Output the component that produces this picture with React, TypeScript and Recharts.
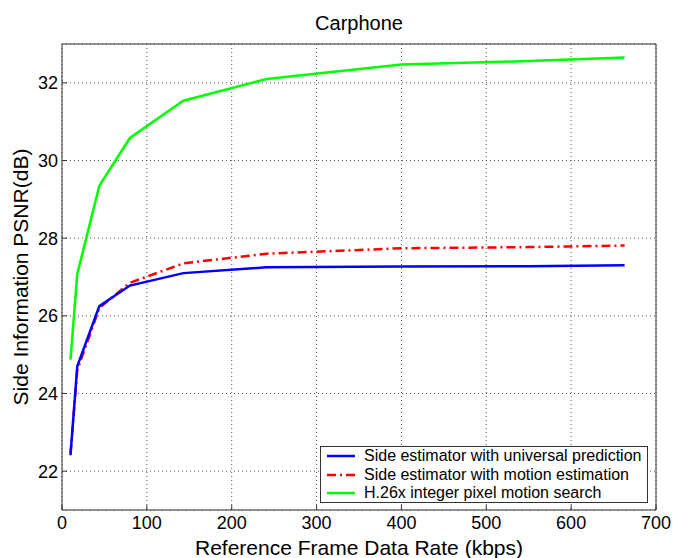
import React from 'react';
import { LineChart, Line, XAxis, YAxis, CartesianGrid, Label } from 'recharts';

const rates = [10, 18, 44, 80, 143, 241, 400, 550, 663];
const universal = [22.41, 24.7, 26.25, 26.78, 27.1, 27.25, 27.27, 27.28, 27.3];
const motionEst = [22.45, 24.6, 26.2, 26.85, 27.35, 27.6, 27.74, 27.77, 27.81];
const h26x = [24.87, 27.08, 29.35, 30.58, 31.54, 32.1, 32.47, 32.56, 32.65];

const xTicks = [0, 100, 200, 300, 400, 500, 600, 700];
const yTicks = [22, 24, 26, 28, 30, 32];

const seriesNames = [
  'Side estimator with universal prediction',
  'Side estimator with motion estimation',
  'H.26x integer pixel motion search',
];
const seriesColors = ['#0000ff', '#ff0000', '#00ff00'];
const seriesDash = [undefined, '9 4 2 4', undefined];

const data = rates.map((r, i) => ({
  rate: r,
  universal: universal[i],
  motion: motionEst[i],
  h26x: h26x[i],
}));

const FONT = '"Liberation Sans", Arial, sans-serif';

const LegendBox = () => (
  <div
    style={{
      position: 'absolute',
      left: 320,
      top: 446,
      border: '1px solid #333',
      background: '#fff',
      width: 328,
      height: 57,
      boxSizing: 'border-box',
      paddingTop: 0,
      fontFamily: FONT,
      fontSize: 16,
      color: '#000',
    }}
  >
    {seriesNames.map((name, i) => (
      <div key={name} style={{ display: 'flex', alignItems: 'center', height: 18.5, lineHeight: '18px' }}>
        <svg width={38} height={10} style={{ flex: 'none' }}>
          <line
            x1={6}
            x2={34}
            y1={5}
            y2={5}
            stroke={seriesColors[i]}
            strokeWidth={2.5}
            strokeDasharray={seriesDash[i]}
          />
        </svg>
        <span style={{ marginLeft: 5, whiteSpace: 'nowrap' }}>{name}</span>
      </div>
    ))}
  </div>
);

export default function App() {
  return (
    <div style={{ position: 'absolute', left: 0, top: 0, width: 673, height: 558, background: '#fff' }}>
      <LineChart width={673} height={558} data={data} margin={{ top: 0, right: 0, bottom: 0, left: 0 }}>
        <CartesianGrid xAxisId="b" yAxisId="l" stroke="#555" strokeDasharray="1 3" />
        <XAxis
          xAxisId="b"
          dataKey="rate"
          type="number"
          domain={[0, 700]}
          ticks={xTicks}
          interval={0}
          height={48}
          stroke="#333"
          tickSize={-5}
          tickMargin={11}
          tick={{ fill: '#000', fontSize: 18, fontFamily: FONT }}
        >
          <Label
            value="Reference Frame Data Rate (kbps)"
            position="insideBottom"
            offset={3}
            style={{ fontSize: 21, fontFamily: FONT, fill: '#000' }}
          />
        </XAxis>
        <XAxis
          xAxisId="t"
          orientation="top"
          dataKey="rate"
          type="number"
          domain={[0, 700]}
          ticks={xTicks}
          interval={0}
          height={44}
          stroke="#333"
          tickSize={-5}
          tick={false}
        >
          <Label
            content={(props: any) => {
              const vb = props.viewBox || {};
              const cx = (vb.x || 0) + (vb.width || 0) / 2;
              return (
                <text x={cx} y={30} textAnchor="middle" style={{ fontSize: 20, fontFamily: FONT, fill: '#000' }}>
                  Carphone
                </text>
              );
            }}
          />
        </XAxis>
        <YAxis
          yAxisId="l"
          type="number"
          domain={[21, 33]}
          ticks={yTicks}
          interval={0}
          width={62}
          stroke="#333"
          tickSize={-5}
          tickMargin={9}
          tick={{ fill: '#000', fontSize: 18, fontFamily: FONT }}
        >
          <Label
            content={(props: any) => {
              const vb = props.viewBox || {};
              const cx = (vb.x || 0) + 28;
              const cy = (vb.y || 0) + (vb.height || 0) / 2;
              return (
                <text
                  x={cx}
                  y={cy}
                  transform={`rotate(-90, ${cx}, ${cy})`}
                  textAnchor="middle"
                  style={{ fontSize: 21, fontFamily: FONT, fill: '#000' }}
                >
                  Side Information PSNR(dB)
                </text>
              );
            }}
          />
        </YAxis>
        <YAxis
          yAxisId="r"
          orientation="right"
          type="number"
          domain={[21, 33]}
          ticks={yTicks}
          interval={0}
          width={17}
          stroke="#333"
          tickSize={-5}
          tick={false}
        />
        <Line
          xAxisId="b"
          yAxisId="l"
          dataKey="motion"
          stroke={seriesColors[1]}
          strokeWidth={2.5}
          strokeDasharray={seriesDash[1]}
          dot={false}
          isAnimationActive={false}
        />
        <Line
          xAxisId="b"
          yAxisId="l"
          dataKey="universal"
          stroke={seriesColors[0]}
          strokeWidth={2.5}
          dot={false}
          isAnimationActive={false}
        />
        <Line
          xAxisId="b"
          yAxisId="l"
          dataKey="h26x"
          stroke={seriesColors[2]}
          strokeWidth={2.5}
          dot={false}
          isAnimationActive={false}
        />
      </LineChart>
      <LegendBox />
    </div>
  );
}
